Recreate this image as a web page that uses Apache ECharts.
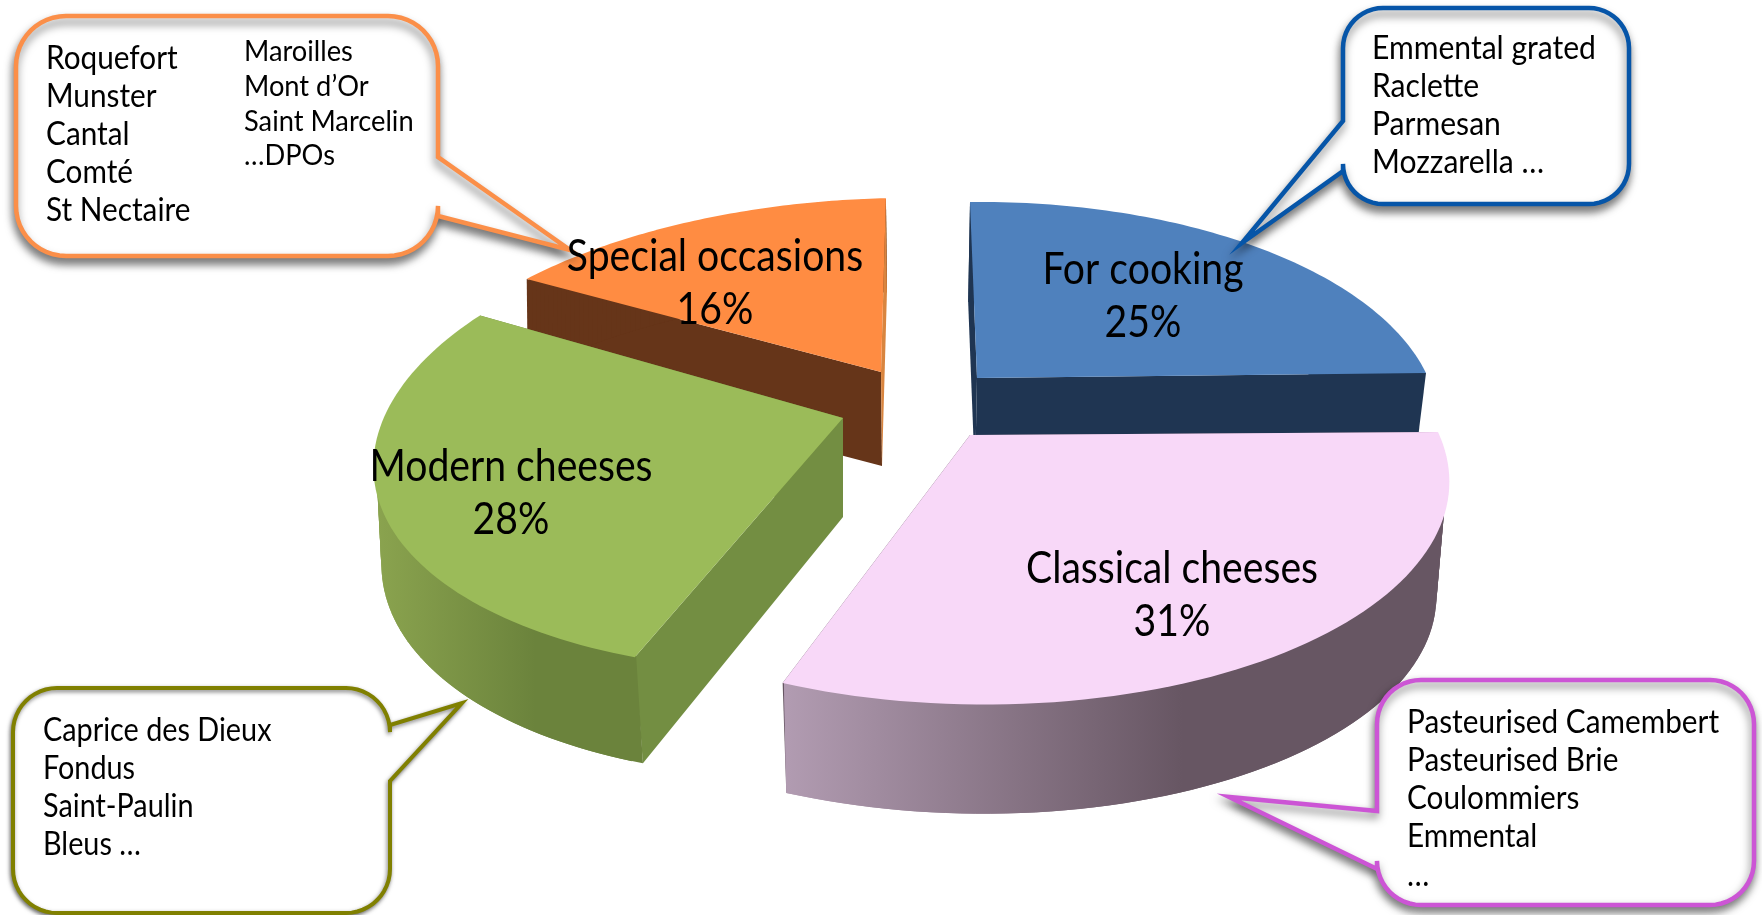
<!DOCTYPE html>
<html>
<head>
<meta charset="utf-8">
<title>Cheese consumption by usage</title>
<style>html,body{margin:0;padding:0;background:#fff}#chart{width:1762px;height:915px}</style>
<script src="https://cdn.jsdelivr.net/npm/echarts@6/dist/echarts.min.js"></script>
</head>
<body>
<div id="chart"></div>
<script>
// Market segments, clockwise from twelve o'clock
const categories = ['For cooking', 'Classical cheeses', 'Modern cheeses', 'Special occasions'];
const shares = [25, 31, 28, 16];

// Example cheeses listed in each callout
const cookingCheeses = ['Emmental grated', 'Raclette', 'Parmesan', 'Mozzarella …'];
const classicalCheeses = ['Pasteurised Camembert', 'Pasteurised Brie', 'Coulommiers', 'Emmental', '…'];
const modernCheeses = ['Caprice des Dieux', 'Fondus', 'Saint-Paulin', 'Bleus …'];
const specialCheeses = ['Roquefort', 'Munster', 'Cantal', 'Comté', 'St Nectaire'];
const specialCheesesMore = ['Maroilles', 'Mont d’Or', 'Saint Marcelin', '…DPOs'];

const FONT = 'Lato, "Open Sans", sans-serif';

// Perspective of each exploded wedge: apex on screen, plane-to-screen terms, then the lower rim.
// layers gives the paint order of [start cut face, end cut face, outer rim] inside a wedge.
const wedgeViews = [
  { ox: 977, oy: 378, a: 449, b: 8.5, c: -5, d: 213.6, p: 0.214, bottom: { dx: -2, dy: 100, kx: 0.977, ky: 1, ex: 0 },
    top: '#4f81bd', rim: '#1f3552', faceStart: '#1f3552', faceEnd: '#1f3552', layers: [1, 2, 0], z: 1, label: [1143, 269] },
  { ox: 970, oy: 435, a: 468, b: 17.5, c: -3, d: 221, p: 0.18, bottom: { dx: -1, dy: 116, kx: 0.975, ky: 0.975, ex: 0 },
    top: '#f8d8f8', rim: ['#b29cb2', '#675663'], faceStart: '#675663', faceEnd: '#675663', layers: [1, 2, 3], z: 2, label: [1172, 568] },
  { ox: 843, oy: 418, a: 465, b: -19, c: -16, d: 227, p: 0.1, bottom: { dx: 0, dy: 99, kx: 0.985, ky: 1.03, ex: 0.021 },
    top: '#9bbb59', rim: ['#8ba44f', '#6b833c'], faceStart: '#738e42', faceEnd: '#6b833c', layers: [2, 1, 3], z: 2, label: [511, 466] },
  { ox: 881, oy: 372, a: 471.5, b: -6, c: -11, d: 211, p: 0.214, bottom: { dx: 1, dy: 94, kx: 1, ky: 1, ex: 0 },
    top: '#ff8c42', rim: '#663519', faceStart: '#663519', faceEnd: '#d9853f', layers: [1, 3, 2], z: 0, label: [715, 256] }
];

// Speech-bubble outlines: box, corner radius, side the tail leaves from, tail anchors and tip
const bubbles = [
  { x: 16, y: 16, w: 422, h: 240, r: 50, side: 'right', y1: 157, y2: 216, tip: [570, 250], stroke: '#fb8f49', lw: 4.5, blur: 8, oy: 6 },
  { x: 1343, y: 8, w: 286, h: 196, r: 40, side: 'left', y1: 121, y2: 171, tip: [1242, 243], stroke: '#0655a8', lw: 4.5, blur: 8, oy: 6 },
  { x: 13, y: 688, w: 377, h: 225, r: 44, side: 'right', y1: 725, y2: 781, tip: [462, 703], stroke: '#808000', lw: 4, blur: 4, oy: 2 },
  { x: 1377, y: 680, w: 377, h: 225, r: 44, side: 'left', y1: 811, y2: 869, tip: [1229, 797], stroke: '#cc55d5', lw: 4.5, blur: 8, oy: 5 }
];

// Text blocks inside the bubbles
const bubbleTexts = [
  { lines: specialCheeses, x: 46, y: 58.3, gap: 38.2, size: 32, sx: 0.93 },
  { lines: specialCheesesMore, x: 244, y: 51.6, gap: 34.8, size: 29, sx: 0.94 },
  { lines: cookingCheeses, x: 1372, y: 48.2, gap: 38.2, size: 32, sx: 0.94 },
  { lines: modernCheeses, x: 43, y: 730.3, gap: 38.2, size: 32, sx: 0.9 },
  { lines: classicalCheeses, x: 1407, y: 722.4, gap: 38.2, size: 32, sx: 0.93 }
];

function project(view, deg, r, lower) {
  const t = deg * Math.PI / 180;
  const X = Math.sin(t) * r, Y = -Math.cos(t) * r;
  const w = 1 - view.p * Y;
  const px = (view.a * X + view.b * Y) / w;
  const py = (view.c * X + view.d * Y) / w;
  if (!lower) return [view.ox + px, view.oy + py];
  const s = view.bottom;
  return [view.ox + s.dx + px * s.kx + py * s.ex, view.oy + s.dy + py * s.ky];
}

function arcPoints(view, from, to, radius, lower) {
  const pts = [], n = 72;
  for (let i = 0; i <= n; i++) pts.push(project(view, from + (to - from) * i / n, radius, lower));
  return pts;
}

// Rim colour; two-stop rims shade left to right across the rim's own screen extent
function rimFill(rim, points) {
  if (typeof rim === 'string') return rim;
  const xs = points.map(p => p[0]);
  const x0 = Math.min.apply(null, xs), x1 = Math.max.apply(null, xs);
  return new echarts.graphic.LinearGradient(x0, 0, x1, 0, [
    { offset: 0, color: rim[0] },
    { offset: 0.6, color: rim[1] },
    { offset: 1, color: rim[1] }
  ], true);
}

function renderWedge(params, api) {
  const i = params.dataIndex;
  const view = wedgeViews[i];
  const total = shares.reduce((s, v) => s + v, 0);
  const before = shares.slice(0, i).reduce((s, v) => s + v, 0);
  const start = before / total * 360;
  const end = start + api.value(0) / total * 360;
  const topApex = project(view, 0, 0, false);
  const lowApex = project(view, 0, 0, true);
  const topArc = arcPoints(view, start, end, 1, false);
  const lowArc = arcPoints(view, start, end, 1, true);
  // The rim's upper edge sits just inside the top face so no dark fringe shows along the arc
  const rimArc = arcPoints(view, start, end, 0.994, false);
  const last = topArc.length - 1;
  const poly = (points, fill, z2) => ({ type: 'polygon', shape: { points }, style: { fill }, z2 });
  const base = view.z * 10;
  const rimPaint = rimFill(view.rim, topArc.concat(lowArc));
  // The rim is a strip of overlapping quads so it also fills the silhouette beyond the top arc
  const rimStrip = [];
  for (let k = 0; k < last; k++) {
    const k2 = Math.min(k + 2, last);
    rimStrip.push(poly([rimArc[k], rimArc[k2], lowArc[k2], lowArc[k]], rimPaint, base + view.layers[2]));
  }
  return {
    type: 'group',
    children: rimStrip.concat([
      poly([topApex, topArc[0], lowArc[0], lowApex], view.faceStart, base + view.layers[0]),
      poly([topApex, topArc[last], lowArc[last], lowApex], view.faceEnd, base + view.layers[1]),
      poly([topApex].concat(topArc), view.top, base + 4)
    ])
  };
}

function renderLabel(params, api) {
  const view = wedgeViews[params.dataIndex];
  return {
    type: 'text',
    x: view.label[0],
    y: view.label[1],
    scaleX: 0.87,
    style: {
      text: categories[params.dataIndex] + '\n' + api.value(0) + '%',
      font: '45px ' + FONT,
      lineHeight: 53,
      fill: '#000',
      textAlign: 'center',
      textVerticalAlign: 'top',
      y: -26
    }
  };
}

function cornerArc(cx, cy, r, a0, a1) {
  const pts = [];
  for (let i = 0; i <= 12; i++) {
    const t = (a0 + (a1 - a0) * i / 12) * Math.PI / 180;
    pts.push([cx + r * Math.cos(t), cy + r * Math.sin(t)]);
  }
  return pts;
}

function bubblePoints(b) {
  const x2 = b.x + b.w, y2 = b.y + b.h, r = b.r;
  let pts = cornerArc(x2 - r, b.y + r, r, -90, 0);
  if (b.side === 'right') pts.push([x2, b.y1], b.tip, [x2, b.y2]);
  pts = pts.concat(cornerArc(x2 - r, y2 - r, r, 0, 90));
  pts = pts.concat(cornerArc(b.x + r, y2 - r, r, 90, 180));
  if (b.side === 'left') pts.push([b.x, b.y2], b.tip, [b.x, b.y1]);
  pts = pts.concat(cornerArc(b.x + r, b.y + r, r, 180, 270));
  return pts;
}

const bubbleShapes = bubbles.map(b => ({
  type: 'polygon',
  z: 3,
  shape: { points: bubblePoints(b) },
  style: {
    fill: '#fff', stroke: b.stroke, lineWidth: b.lw, lineJoin: 'miter',
    shadowBlur: b.blur, shadowOffsetX: -1, shadowOffsetY: b.oy, shadowColor: 'rgba(0,0,0,0.5)'
  }
}));

const bubbleLabels = bubbleTexts.flatMap(t => t.lines.map((line, i) => ({
  type: 'text',
  z: 4,
  x: t.x,
  y: t.y + i * t.gap,
  scaleX: t.sx,
  style: { text: line, font: t.size + 'px ' + FONT, fill: '#000', textVerticalAlign: 'middle' }
})));

const chart = echarts.init(document.getElementById('chart'), null, { renderer: 'canvas' });
chart.setOption({
  animation: false,
  backgroundColor: '#fff',
  graphic: { elements: bubbleShapes.concat(bubbleLabels) },
  series: [
    {
      type: 'custom', name: 'Share', coordinateSystem: 'none', z: 2, silent: true,
      data: shares.map(v => [v]), renderItem: renderWedge
    },
    {
      type: 'custom', name: 'Labels', coordinateSystem: 'none', z: 5, silent: true,
      data: shares.map(v => [v]), renderItem: renderLabel
    }
  ]
});
</script>
</body>
</html>
